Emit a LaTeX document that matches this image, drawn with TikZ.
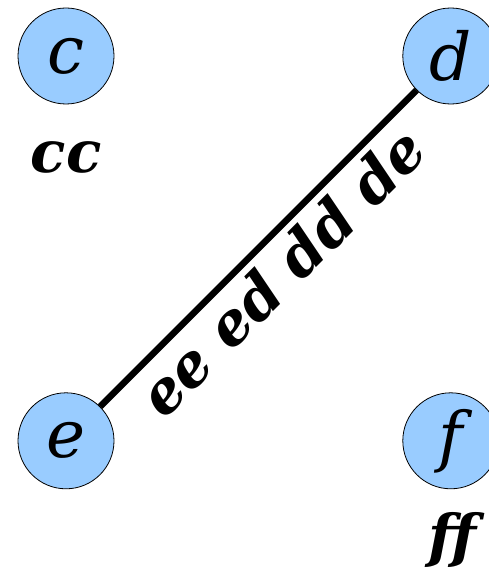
\documentclass[tikz,border=0pt]{standalone}
\usepackage{fontspec}
\setmainfont{DejaVu Serif}
\usetikzlibrary{positioning}

\definecolor{nodeblue}{HTML}{99CCFF}

\begin{document}
\begin{tikzpicture}[x=1pt, y=-1pt, node distance=288pt,
    vertex/.style={draw, circle, fill=nodeblue, line width=0.8pt, minimum size=96pt, inner sep=0pt, font=\fontsize{66}{66}\selectfont\itshape},
    tag/.style={inner sep=0pt, anchor=base, font=\fontsize{58}{58}\selectfont\bfseries\itshape},
    link/.style={line width=6.5pt}]
  \useasboundingbox (0,0) rectangle (489,567);

  \node (c) [vertex] at (66,56) {c};
  \node (d) [vertex, right=of c] {d};
  \node (e) [vertex, below=of c] {e};
  \node (f) [vertex, right=of e] {f};

  \node (cc) [tag] at (66,172) {cc};
  \node (ff) [tag] at (452,556) {ff};

  \draw [link] (e) -- node [pos=0.5, sloped, below=7pt, inner sep=0pt, font=\fontsize{59}{59}\selectfont\bfseries\itshape] {ee ed dd de} (d);
\end{tikzpicture}
\end{document}
